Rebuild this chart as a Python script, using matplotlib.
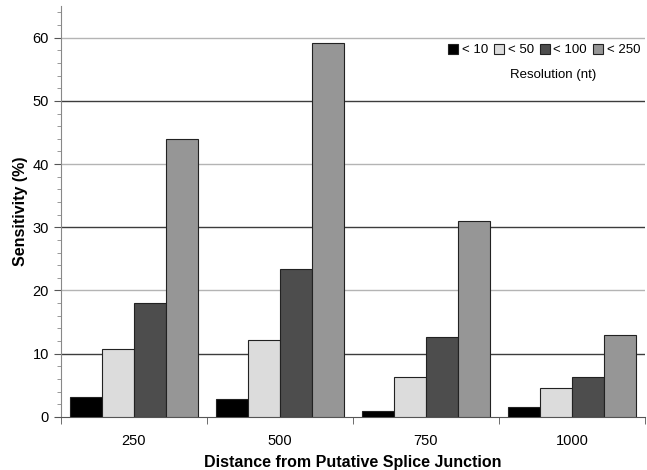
import numpy as np
import matplotlib
matplotlib.use("Agg")
from matplotlib import pyplot as plt
from matplotlib.ticker import MultipleLocator

plt.rcParams['font.family'] = ['Liberation Sans', 'DejaVu Sans']

distances = ['250', '500', '750', '1000']
series = ['< 10', '< 50', '< 100', '< 250']
res_10 = [3.2, 2.8, 1.0, 1.5]
res_50 = [10.8, 12.2, 6.3, 4.5]
res_100 = [18.0, 23.4, 12.6, 6.3]
res_250 = [44.0, 59.2, 31.0, 13.0]
colors = ['#000000', '#dcdcdc', '#4d4d4d', '#969696']

fig = plt.figure(figsize=(6.47, 4.70), dpi=100)
ax = fig.add_axes([0.094, 0.113, 0.903, 0.874])

x = np.arange(len(distances))
w = 0.22
for i, (vals, lab) in enumerate(zip([res_10, res_50, res_100, res_250], series)):
    ax.bar(x + (i - 1.5) * w, vals, w, color=colors[i], edgecolor='#222222',
           linewidth=0.8, label=lab, zorder=3)

ax.set_xlim(-0.5, 3.5)
ax.set_ylim(0, 65)
ax.yaxis.set_major_locator(MultipleLocator(10))
ax.yaxis.set_minor_locator(MultipleLocator(2))
ax.set_xticks(x)
ax.set_xticklabels(distances)
ax.set_xticks(np.arange(-0.5, 4, 1), minor=True)
ax.tick_params(axis='x', which='major', length=0, pad=12, labelsize=10.5)
ax.tick_params(axis='x', which='minor', length=5, color='#555555')
ax.tick_params(axis='y', which='major', length=5, color='#555555', labelsize=10.5)
ax.tick_params(axis='y', which='minor', length=3, color='#888888')

# alternating dark / light horizontal gridlines
for v in range(10, 70, 10):
    c = '#3c3c3c' if (v // 10) % 2 == 1 else '#b4b4b4'
    ax.axhline(v, color=c, linewidth=1.0, zorder=1)

for s in ['top', 'right']:
    ax.spines[s].set_visible(False)
ax.spines['left'].set_color('#888888')
ax.spines['bottom'].set_color('#555555')

ax.set_ylabel('Sensitivity (%)', fontsize=11.5, fontweight='bold', labelpad=3)
ax.set_xlabel('Distance from Putative Splice Junction', fontsize=11.5,
              fontweight='bold', labelpad=5)

leg = ax.legend(loc='center right', bbox_to_anchor=(0.992, 0.893), ncol=4,
                frameon=False, fontsize=9.5, handlelength=0.75, handleheight=0.75,
                handletextpad=0.3, columnspacing=0.45, borderaxespad=0.0,
                borderpad=0.0)
ax.text(0.843, 0.832, 'Resolution (nt)', transform=ax.transAxes,
        ha='center', va='center', fontsize=9.5)

fig.savefig('out.png', dpi=100)
